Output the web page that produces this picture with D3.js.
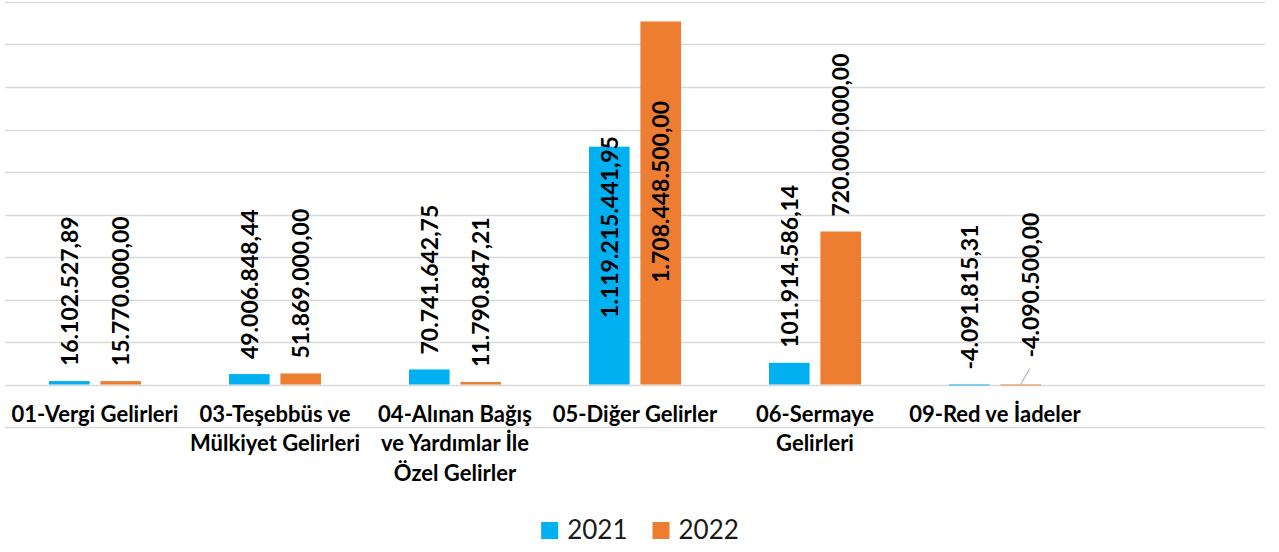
<!DOCTYPE html>
<html lang="tr">
  <head>
    <meta charset="utf-8">
    <title>Gelirler 2021 - 2022</title>
    <script src="https://cdn.jsdelivr.net/npm/d3@7"></script>
    <style>
      html, body { margin: 0; padding: 0; background: #fff; }
      svg { display: block; }
    </style>
  </head>
  <body>
    <div id="main"></div>

  <script type="text/javascript">

      // categories (label lines), the last one is an empty slot in the original
      const categories = [
        ["01-Vergi Gelirleri"],
        ["03-Teşebbüs ve", "Mülkiyet Gelirleri"],
        ["04-Alınan Bağış", "ve Yardımlar İle", "Özel Gelirler"],
        ["05-Diğer Gelirler"],
        ["06-Sermaye", "Gelirleri"],
        ["09-Red ve İadeler"],
        [""]
      ];
      const series = ["2021", "2022"];
      const values2021 = [16102527.89, 49006848.44, 70741642.75, 1119215441.95, 101914586.14, -4091815.31, null];
      const values2022 = [15770000.00, 51869000.00, 11790847.21, 1708448500.00, 720000000.00, -4090500.00, null];
      const colors = ["#00B0F0", "#ED7D31"];
      const yTicks = [-200e6, 0, 200e6, 400e6, 600e6, 800e6, 1000e6, 1200e6, 1400e6, 1600e6, 1800e6];

      const width = 1279, height = 552;
      const svg = d3.select("#main").append("svg")
        .attr("width", width)
        .attr("height", height);

      const x0 = d3.scaleBand()
        .domain(d3.range(categories.length))
        .range([5, 1265]);

      const x1 = d3.scaleBand()
        .domain(series)
        .range([44, 136])
        .paddingInner(0.21);

      const y = d3.scaleLinear()
        .domain([-200e6, 1800e6])
        .range([427, 2]);

      // gridlines
      svg.append("g")
        .selectAll("line")
        .data(yTicks)
        .enter()
        .append("line")
        .attr("x1", 5)
        .attr("x2", 1265)
        .attr("y1", d => Math.round(y(d)) + 0.5)
        .attr("y2", d => Math.round(y(d)) + 0.5)
        .style("stroke", "#D9D9D9")
        .style("stroke-width", "1.4px");

      const rows = [];
      categories.forEach((c, i) => {
        [values2021[i], values2022[i]].forEach((v, s) => {
          if (v !== null) rows.push({ i: i, s: s, v: v });
        });
      });

      // bars
      svg.append("g")
        .selectAll("rect")
        .data(rows)
        .enter()
        .append("rect")
        .attr("x", d => x0(d.i) + x1(series[d.s]))
        .attr("width", x1.bandwidth())
        .attr("y", d => Math.min(y(d.v), y(0)))
        .attr("height", d => Math.abs(y(d.v) - y(0)))
        .style("fill", d => colors[d.s]);

      // value labels (rotated)
      const fmt = v => {
        const neg = v < 0;
        const parts = Math.abs(v).toFixed(2).split(".");
        const int = parts[0].replace(/\B(?=(\d{3})+(?!\d))/g, ".");
        return (neg ? "-" : "") + int + "," + parts[1];
      };

      svg.append("g")
        .selectAll("g")
        .data(rows)
        .enter()
        .append("g")
        .each(function (d) {
          const g = d3.select(this);
          const cx = x0(d.i) + x1(series[d.s]) + x1.bandwidth() / 2;
          const top = Math.min(y(d.v), y(0));
          const t = g.append("text")
            .text(fmt(d.v))
            .attr("font-family", "Lato, 'Open Sans', sans-serif")
            .attr("font-weight", "bold")
            .attr("font-size", "23px")
            .attr("fill", "#000")
            .attr("text-anchor", "start")
            .attr("dy", "0.36em");
          const len = t.node().getComputedTextLength();
          let sx = cx, sy = top - 15;
          if (sy - len < 0) {
            // does not fit above the bar, goes inside
            sy = y(d.v) + 0.72 * (y(0) - y(d.v));
          }
          if (d.v < 0 && d.s === 1) {
            // label moved by hand, with leader line
            sx = cx + 10;
            sy = top - 27;
            g.append("line")
              .attr("x1", cx)
              .attr("y1", y(0))
              .attr("x2", cx + 9)
              .attr("y2", y(0) - 16)
              .style("stroke", "#A6A6A6")
              .style("stroke-width", "1px");
          }
          t.attr("transform", "translate(" + sx + "," + sy + ") rotate(-90)");
        });

      // category labels
      const cat = svg.append("g")
        .selectAll("text")
        .data(categories)
        .enter()
        .append("text")
        .attr("x", (d, i) => x0(i) + x0.bandwidth() / 2)
        .attr("y", 422)
        .attr("text-anchor", "middle")
        .attr("font-family", "Lato, 'Open Sans', sans-serif")
        .attr("font-weight", "bold")
        .attr("font-size", "22px")
        .attr("fill", "#000");

      cat.selectAll("tspan")
        .data(d => d)
        .enter()
        .append("tspan")
        .attr("x", function () { return d3.select(this.parentNode).attr("x"); })
        .attr("dy", (d, j) => j === 0 ? 0 : 29.3)
        .text(d => d);

      // legend
      const legend = svg.append("g");
      let lx = 0;
      series.forEach((s, k) => {
        legend.append("rect")
          .attr("x", lx)
          .attr("y", 522)
          .attr("width", 17)
          .attr("height", 17)
          .style("fill", colors[k]);
        const t = legend.append("text")
          .attr("x", lx + 26)
          .attr("y", 539)
          .text(s)
          .attr("font-family", "Lato, 'Open Sans', sans-serif")
          .attr("font-size", "26px")
          .attr("fill", "#1a1a1a");
        lx += 26 + t.node().getComputedTextLength() + 25;
      });
      const lw = lx - 25;
      legend.attr("transform", "translate(" + (640 - lw / 2) + ",0)");

  </script>
  </body>
</html>
